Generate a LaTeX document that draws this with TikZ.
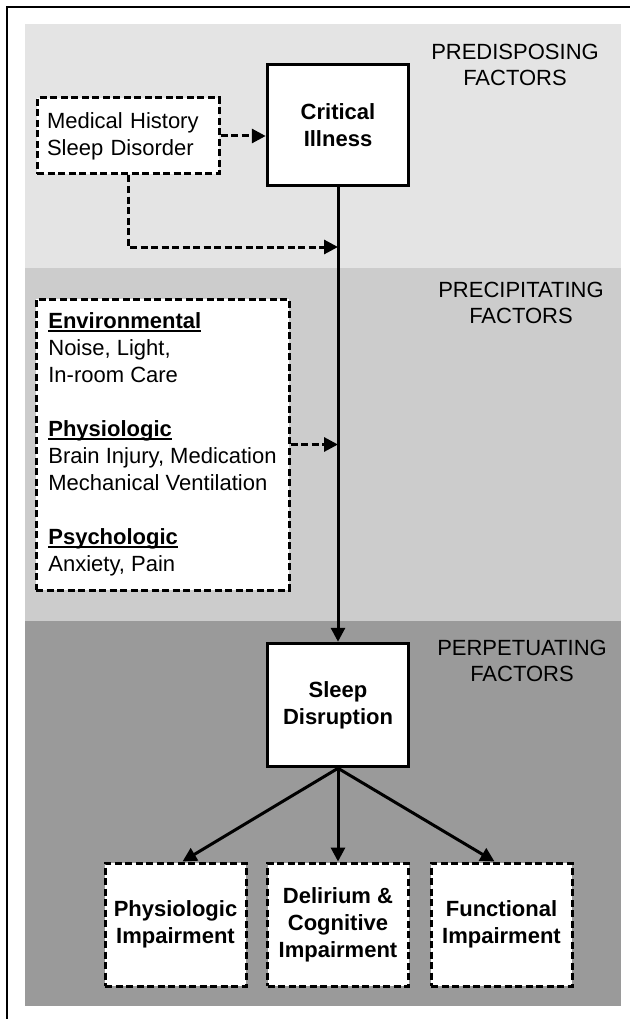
\documentclass[tikz,border=0pt]{standalone}
\usepackage{fontspec}
\setmainfont{Liberation Sans}
\usetikzlibrary{arrows.meta,calc}
\definecolor{bandA}{HTML}{E4E4E4}
\definecolor{bandB}{HTML}{CCCCCC}
\definecolor{bandC}{HTML}{9A9A9A}
\newlength\ulw
\newcommand\myul[1]{\settowidth\ulw{\textbf{#1}}\textbf{#1}\hspace{-\ulw}\rule[-3pt]{\ulw}{1.6pt}}
\begin{document}
\begin{tikzpicture}[x=1pt,y=-1pt,
  solidbox/.style={draw, line width=3.5pt, fill=white, align=center, inner sep=0pt,
    font=\fontsize{22}{27}\selectfont\bfseries},
  dashbox/.style={draw, line width=3pt, dash pattern=on 7pt off 3.5pt, fill=white, inner sep=0pt},
  boldtxt/.style={align=center, font=\fontsize{22}{27}\selectfont\bfseries},
  plaintxt/.style={align=left, font=\fontsize{22}{27}\selectfont},
  hdr/.style={align=center, inner sep=0pt, font=\fontsize{22}{26}\selectfont},
  conn/.style={line width=3pt, -{Triangle[length=14pt,width=14pt]}},
  dconn/.style={conn, dash pattern=on 7pt off 3.5pt}
]
\useasboundingbox (0,0) rectangle (629,1019);
% background bands
\fill[bandA] (25,24) rectangle (621,268);
\fill[bandB] (25,268) rectangle (621,621);
\fill[bandC] (25,621) rectangle (621,1006);
% outer frame (left and top edges)
\draw[line width=2.5pt, line join=miter] (7,1025) -- (7,7) -- (635,7);

% headers
\node[hdr] (h1) at (515,64.5) {PREDISPOSING\\FACTORS};
\node[hdr] (h2) at (521,303) {PRECIPITATING\\FACTORS};
\node[hdr] (h3) at (522,660.5) {PERPETUATING\\FACTORS};

% main boxes
\node[solidbox, minimum width=141pt, minimum height=121pt] (ci) at (338,125) {Critical\\Illness};
\node[solidbox, minimum width=141pt, minimum height=123pt] (sd) at (338,705) {Sleep\\Disruption};

\node[dashbox, plaintxt, text width=162pt, inner xsep=10pt, minimum height=76pt] (mh) at (128,136)
  {Medical History\\Sleep Disorder};

\node[dashbox, plaintxt, inner xsep=10pt, minimum width=253pt, minimum height=291pt] (pf) at (162.5,444.5)
  {\myul{Environmental}\\Noise, Light,\\In-room Care\\[27pt]%
   \myul{Physiologic}\\Brain Injury, Medication\\Mechanical Ventilation\\[27pt]%
   \myul{Psychologic}\\Anxiety, Pain};

\node[dashbox, boldtxt, minimum width=141pt, minimum height=123pt] (pi) at (175.5,924.5) {Physiologic\\Impairment};
\node[dashbox, boldtxt, minimum width=141pt, minimum height=123pt] (dc) at (338,924.5) {Delirium \&\\Cognitive\\Impairment};
\node[dashbox, boldtxt, minimum width=141pt, minimum height=123pt] (fi) at (501.5,924.5) {Functional\\Impairment};

% connectors
\coordinate (j1) at (338,247);
\draw[conn] (ci.south) -- (sd.north);
\draw[dconn] (mh.east) -- (mh.east -| ci.west);
\draw[dconn] (mh.south) |- (j1);
\draw[dconn] (pf.east) -- (pf.east -| ci.south);
\draw[conn] (sd.south) -- ($(pi.north)+(7,0)$);
\draw[conn] (sd.south) -- (dc.north);
\draw[conn] (sd.south) -- ($(fi.north)+(-7,0)$);
\end{tikzpicture}
\end{document}
